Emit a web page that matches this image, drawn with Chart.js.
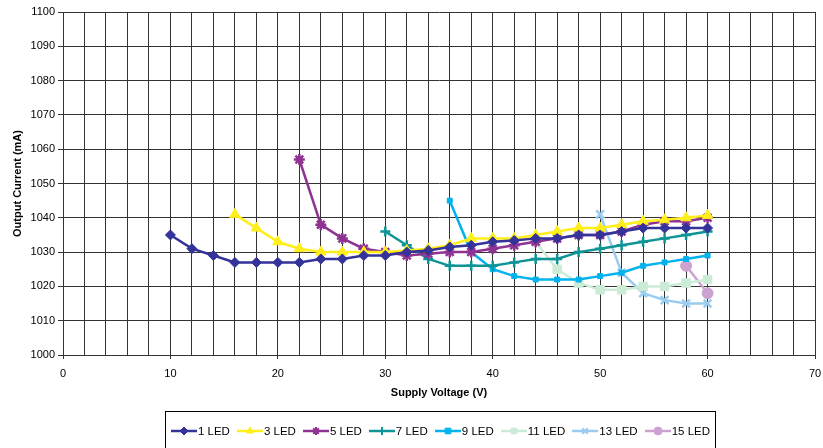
<!DOCTYPE html>
<html>
<head>
<meta charset="utf-8">
<script src="https://cdn.jsdelivr.net/npm/chart.js"></script>
<style>
  html, body { margin: 0; padding: 0; background: #fff; }
  #wrap { position: relative; width: 823px; height: 448px; overflow: hidden; }
  #chart { position: absolute; left: 0; top: 0; }
  #legend {
    position: absolute; left: 165px; top: 411px; width: 551px; height: 45px;
    border: 1px solid #000; box-sizing: border-box;
    display: flex; align-items: flex-start; justify-content: center;
    padding-top: 12px;
    font-family: "Liberation Sans", Arial, sans-serif; font-size: 11.5px; color: #000;
  }
  .item { display: flex; align-items: center; margin: 0 3.5px; white-space: nowrap; }
  .item canvas { margin-right: 1px; }
</style>
</head>
<body>
<div id="wrap">
  <canvas id="chart" width="823" height="448"></canvas>
  <div id="legend"></div>
</div>
<script>
// ---- data ----
const voltage = [10,12,14,16,18,20,22,24,26,28,30,32,34,36,38,40,42,44,46,48,50,52,54,56,58,60];
const seriesNames = ["1 LED","3 LED","5 LED","7 LED","9 LED","11 LED","13 LED","15 LED"];
const led1  = [1035,1031,1029,1027,1027,1027,1027,1028,1028,1029,1029,1030,1030.5,1031.5,1032,1033,1033.4,1034,1034,1035,1035,1036,1037,1037,1037,1037];
const led3  = [null,null,null,1041,1037,1033,1031,1030,1030,1030,1030,1030.5,1031,1032,1034,1034,1034,1035,1036,1037,1037,1038,1039,1039.4,1040,1040.7];
const led5  = [null,null,null,null,null,null,1057,1038,1034,1031,1030,1029,1029.5,1030,1030,1031,1032,1033,1034,1035,1035,1036,1038,1039,1039,1040];
const led7  = [null,null,null,null,null,null,null,null,null,null,1036,1032,1028,1026,1026,1026,1027,1028,1028,1030,1031,1032,1033,1034,1035,1036];
const led9  = [null,null,null,null,null,null,null,null,null,null,null,null,null,1045,1030,1025,1023,1022,1022,1022,1023,1024,1026,1027,1028,1029];
const led11 = [null,null,null,null,null,null,null,null,null,null,null,null,null,null,null,null,null,1033,1025,1021,1019,1019,1020,1020,1021,1022];
const led13 = [null,null,null,null,null,null,null,null,null,null,null,null,null,null,null,null,null,null,null,null,1041,1024,1018,1016,1015,1015];
const led15 = [null,null,null,null,null,null,null,null,null,null,null,null,null,null,null,null,null,null,null,null,null,null,null,null,1026,1018];
const xTickLabels = [0,10,20,30,40,50,60,70];
const yTickLabels = [1000,1010,1020,1030,1040,1050,1060,1070,1080,1090,1100];

// ---- styles ----
const seriesValues = [led1, led3, led5, led7, led9, led11, led13, led15];
const colors  = ["#333399","#FFEE1A","#8E3391","#0E9494","#00B2EE","#CCEBD6","#99CCEE","#CCA3D0"];
const shapes  = ["rectRot","triangle","star","cross","rect","rect","crossRot","circle"];
const radii   = [5,6,5.5,5,3.5,6,5.5,5.5];
const bw      = [1,1,2.5,2.5,1,1,2.5,1];

function toPoints(vals) {
  const pts = [];
  vals.forEach((v, i) => { if (v !== null) pts.push({x: voltage[i], y: v}); });
  return pts;
}

const datasets = seriesNames.map((name, i) => ({
  label: name,
  data: toPoints(seriesValues[i]),
  borderColor: colors[i],
  backgroundColor: colors[i],
  borderWidth: 2.5,
  pointStyle: shapes[i],
  pointRadius: radii[i],
  pointHoverRadius: radii[i],
  pointBorderWidth: bw[i],
  pointBorderColor: colors[i],
  pointBackgroundColor: colors[i],
  tension: 0,
  fill: false
}));

const FONT = "'Liberation Sans', Arial, sans-serif";
const PADL = 7;

new Chart(document.getElementById('chart'), {
  type: 'line',
  data: { datasets },
  options: {
    responsive: false,
    animation: false,
    events: [],
    layout: { padding: { left: PADL, top: 12, right: 6, bottom: 44 } },
    plugins: { legend: { display: false }, tooltip: { enabled: false } },
    scales: {
      x: {
        type: 'linear', min: 0, max: 70,
        ticks: {
          stepSize: 2, autoSkip: false, maxRotation: 0,
          color: '#000', font: { family: FONT, size: 11 }, padding: 8,
          callback: v => xTickLabels.includes(v) ? String(v) : ''
        },
        grid: {
          color: '#333', lineWidth: 1, tickLength: 4,
          tickColor: ctx => (ctx.tick && xTickLabels.includes(ctx.tick.value)) ? '#333' : 'rgba(0,0,0,0)'
        },
        border: { color: '#333', width: 1 },
        title: { display: true, text: 'Supply Voltage (V)', color: '#000',
          font: { family: FONT, size: 11, weight: 'bold' }, padding: { top: 6, bottom: 4 } },
        afterFit: s => { s.height = 448 - 44 - 355; s.paddingLeft = 0; s.paddingRight = 0; }
      },
      y: {
        type: 'linear', min: 1000, max: 1100,
        ticks: { stepSize: 10, color: '#000', font: { family: FONT, size: 11 }, padding: 3,
          callback: v => yTickLabels.includes(v) ? String(v) : '' },
        grid: { color: '#333', lineWidth: 1, tickLength: 5 },
        border: { color: '#333', width: 1 },
        title: { display: true, text: 'Output Current (mA)', color: '#000',
          font: { family: FONT, size: 11, weight: 'bold' }, padding: { top: 4, bottom: 4 } },
        afterFit: s => { s.width = 63 - PADL; s.paddingTop = 0; s.paddingBottom = 0; }
      }
    }
  }
});

// ---- HTML legend with icons drawn by Chart.js helpers ----
const legend = document.getElementById('legend');
seriesNames.forEach((name, i) => {
  const item = document.createElement('div');
  item.className = 'item';
  const c = document.createElement('canvas');
  c.width = 26; c.height = 14;
  const ctx = c.getContext('2d');
  ctx.strokeStyle = colors[i];
  ctx.lineWidth = 2.5;
  ctx.beginPath(); ctx.moveTo(0, 7); ctx.lineTo(26, 7); ctx.stroke();
  ctx.fillStyle = colors[i];
  ctx.strokeStyle = colors[i];
  ctx.lineWidth = Math.min(bw[i], 2);
  if (Chart.helpers && Chart.helpers.drawPoint) {
    Chart.helpers.drawPoint(ctx, { pointStyle: shapes[i], radius: 4, rotation: 0, borderWidth: Math.min(bw[i], 2) }, 13, 7);
  }
  const span = document.createElement('span');
  span.textContent = name;
  item.appendChild(c);
  item.appendChild(span);
  legend.appendChild(item);
});
</script>
</body>
</html>
